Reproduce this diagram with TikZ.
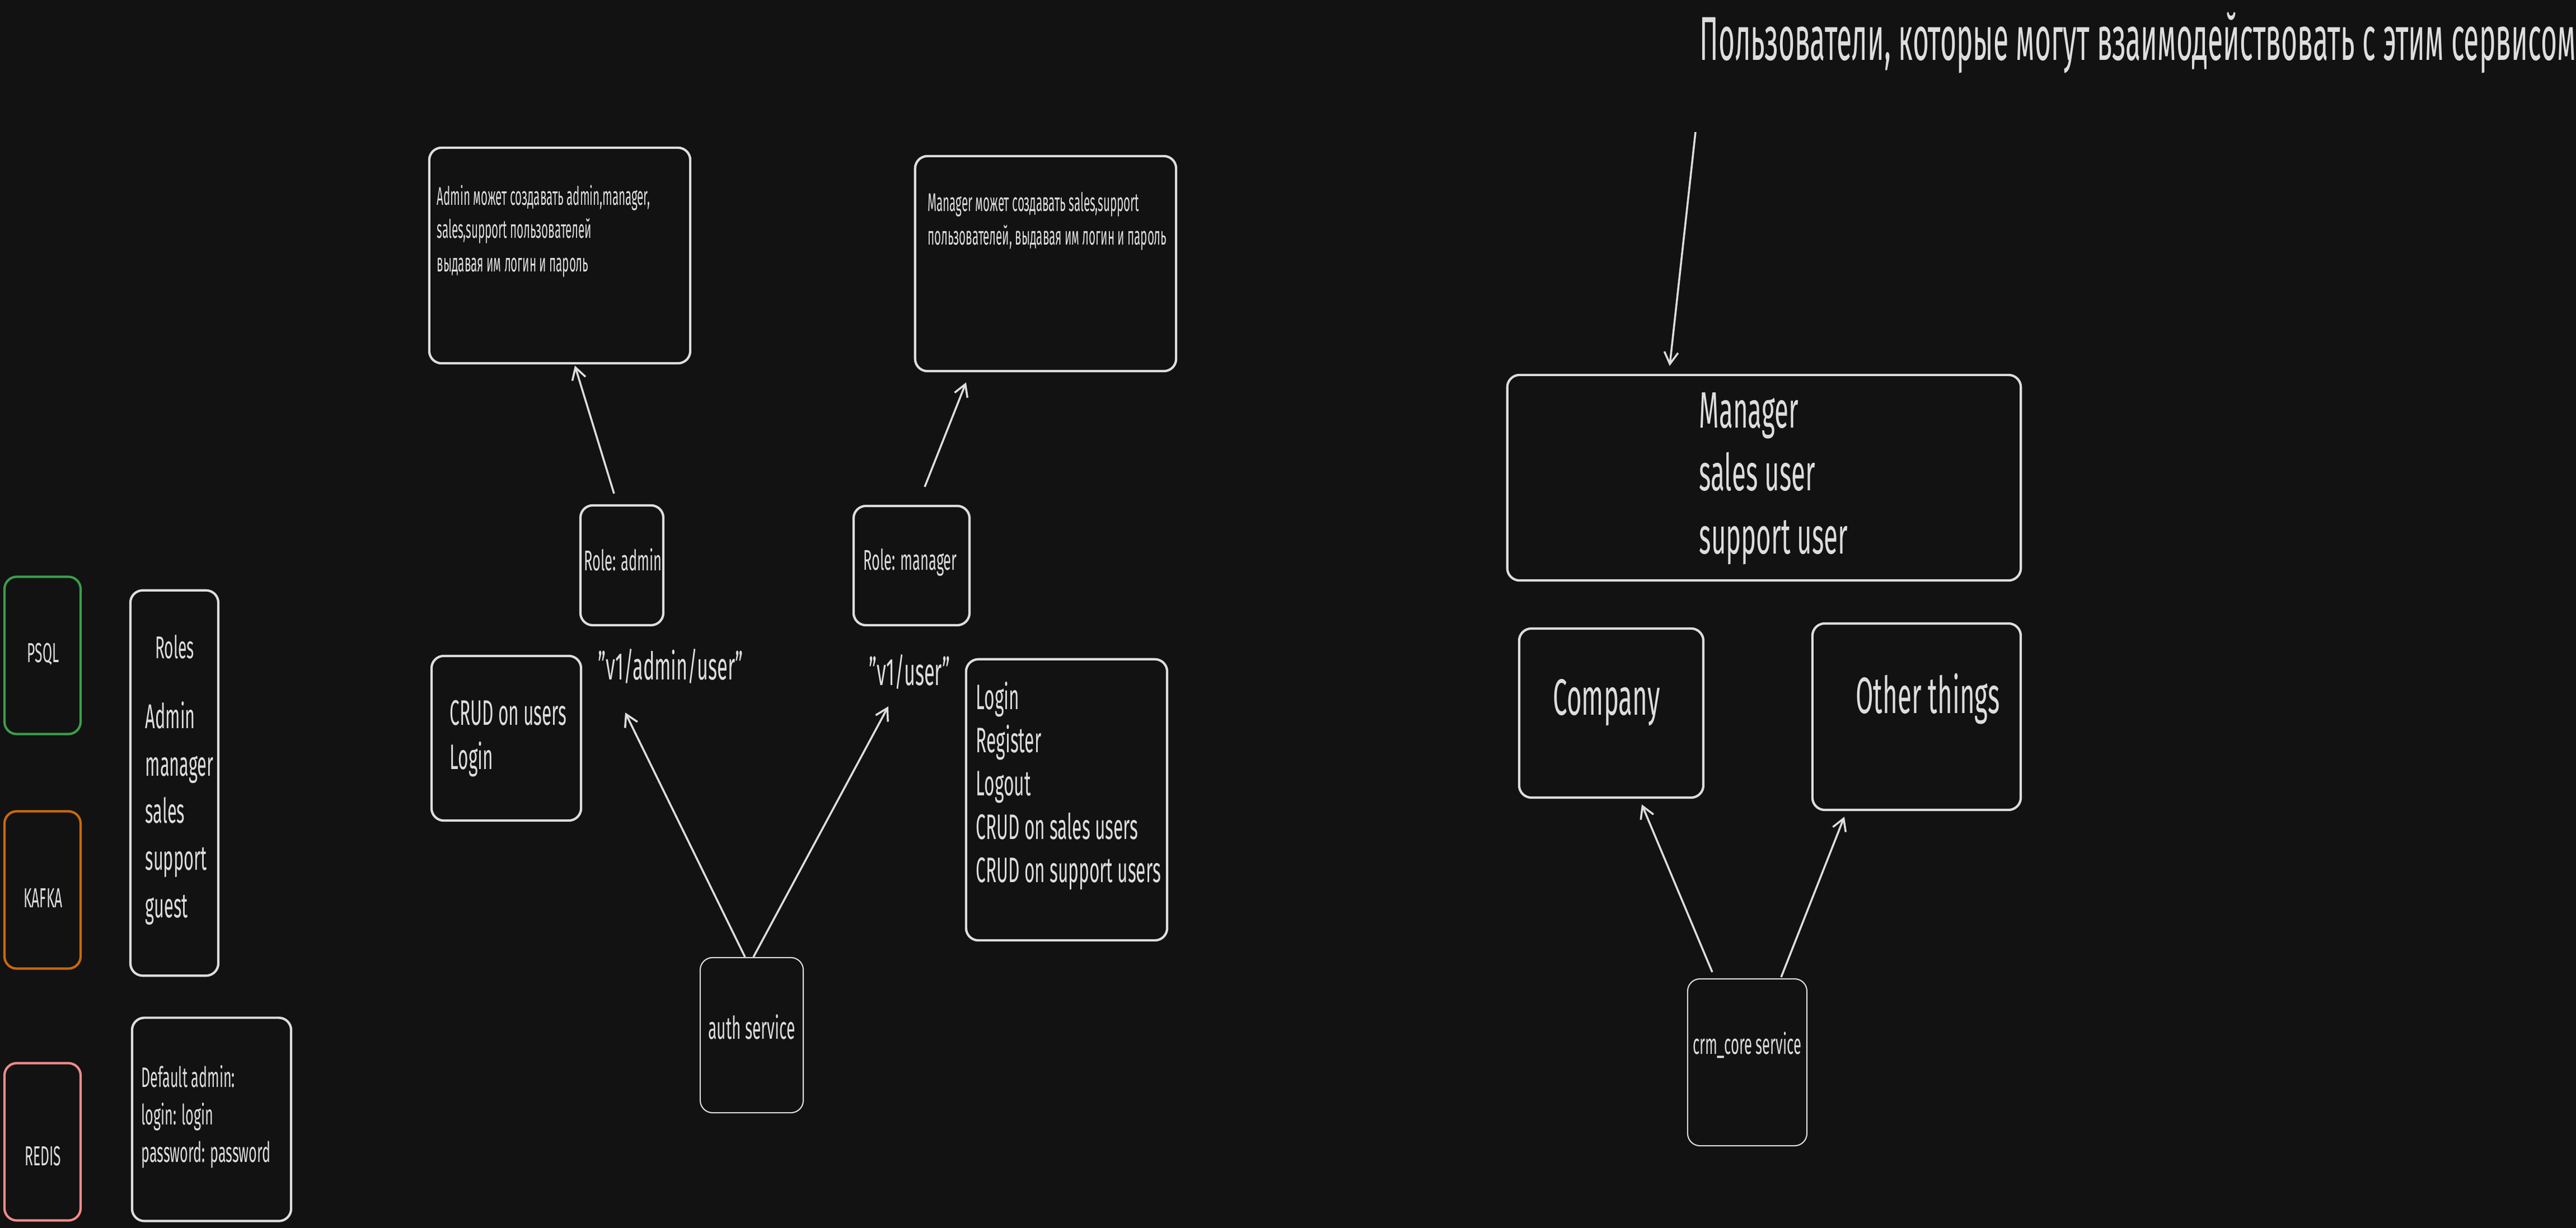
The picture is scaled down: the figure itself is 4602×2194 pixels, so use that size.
\documentclass[tikz,border=0pt]{standalone}
\usepackage{fontspec}
\setmainfont{Fira Sans}[FakeStretch=0.5]
\newfontfamily\ruhand{Fira Sans}[FakeStretch=0.45]
\usepackage{xcolor}
\usepackage{tikz}
\usetikzlibrary{arrows.meta}
\usetikzlibrary{calc}
\definecolor{bgcolor}{HTML}{121212}
\definecolor{linecolor}{HTML}{DDDDDD}
\definecolor{psqlcolor}{HTML}{3A9E4A}
\definecolor{kafkacolor}{HTML}{C8690C}
\definecolor{rediscolor}{HTML}{F08A8A}
\newcommand{\handsize}[2]{\fontsize{#1pt}{#2pt}\selectfont}

\begin{document}
\begin{tikzpicture}[x=0.01cm,y=-0.01cm,
    box/.style={draw=linecolor,line width=1.2pt,rounded corners=0.22cm,inner sep=0pt},
    thinbox/.style={box,line width=0.6pt},
    txt/.style={text=linecolor,inner sep=0pt,align=left},
    arr/.style={draw=linecolor,line width=1pt,-{Straight Barb[length=6pt,width=7pt]}}]
\fill[bgcolor] (0,0) rectangle (4602,2194);

%% storages on the left
\foreach \name/\ypos/\col/\ty in {PSQL/1171/psqlcolor/1169, KAFKA/1590/kafkacolor/1605, REDIS/2040/rediscolor/2066}
{
    \node[box,draw=\col,minimum width=1.36cm,minimum height=2.81cm] (\name) at (76,\ypos) {};
    \node[txt,font=\handsize{14}{17}] (\name-label) at (77,\ty) {\name};
}

\node[box,minimum width=1.57cm,minimum height=6.88cm] (roles) at (311.5,1399) {};
\node[txt,font=\handsize{16}{19}] (rolestitle) at (312,1156) {Roles};
\node[txt,font=\handsize{17.5}{24},anchor=west] (roleslist) at (259,1453) {Admin\\manager\\sales\\support\\guest};

\node[box,minimum width=2.84cm,minimum height=3.63cm] (defadmin) at (378,2000) {};
\node[txt,font=\handsize{14.3}{19},anchor=west] (defadmintext) at (252,1995) {Default admin:\\login: login\\password: password};

%% auth service
\node[box,minimum width=4.66cm,minimum height=3.85cm] (admintxt) at (1000,456.5) {};
\node[txt,font=\ruhand\handsize{13}{17},anchor=west] (admintxtlabel) at (780,413) {Admin может создавать admin,manager,\\sales,support пользователей\\выдавая им логин и пароль};
\node[box,minimum width=4.66cm,minimum height=3.84cm] (managertxt) at (1868,471) {};
\node[txt,font=\ruhand\handsize{13}{17},anchor=west] (managertxtlabel) at (1657,395) {Manager может создавать sales,support\\пользователей, выдавая им логин и пароль};

\node[box,minimum width=1.48cm,minimum height=2.14cm] (roleadmin) at (1111,1010) {};
\node[txt,font=\handsize{14.5}{17}] (roleadminlabel) at (1113,1000) {Role: admin};
\node[box,minimum width=2.07cm,minimum height=2.13cm] (rolemanager) at (1628.5,1010.5) {};
\node[txt,font=\handsize{14.5}{17}] (rolemanagerlabel) at (1626,1005) {Role: manager};

\node[txt,font=\handsize{19.5}{24}] (v1admin) at (1198,1190) {"v1/admin/user"};
\node[txt,font=\handsize{19.5}{24}] (v1user) at (1625,1200) {"v1/user"};

\node[box,minimum width=2.67cm,minimum height=2.94cm] (adminapi) at (904.5,1319) {};
\node[txt,font=\handsize{18}{22.5},anchor=west] (adminapilabel) at (803,1320) {CRUD on users\\Login};
\node[box,minimum width=3.59cm,minimum height=5.02cm] (userapi) at (1905.5,1429) {};
\node[txt,font=\handsize{18}{22},anchor=west] (userapilabel) at (1743,1404) {Login\\Register\\Logout\\CRUD on sales users\\CRUD on support users};

\node[thinbox,minimum width=1.84cm,minimum height=2.77cm] (auth) at (1343,1849.5) {};
\node[txt,font=\handsize{16}{19}] (authlabel) at (1343,1835) {auth service};

\draw[arr] ([xshift=-0.14cm,yshift=0.19cm]roleadmin.north) -- ([xshift=0.27cm,yshift=-0.02cm]admintxt.south);
\draw[arr] ([xshift=0.235cm,yshift=0.32cm]rolemanager.north) -- ([xshift=-1.42cm,yshift=-0.18cm]managertxt.south);
\draw[arr] ([xshift=-0.12cm]auth.north) -- ([xshift=-0.81cm,yshift=-0.83cm]v1admin.center);
\draw[arr] ([xshift=0.03cm]auth.north) -- ([xshift=-0.38cm,yshift=-0.62cm]v1user.center);

%% crm_core service
\node[txt,font=\ruhand\handsize{31.5}{36},anchor=base west] (title) at (3036,108) {Пользователи, которые могут взаимодействовать с этим сервисом};
\node[box,minimum width=9.17cm,minimum height=3.67cm] (users) at (3151.5,853.5) {};
\node[txt,font=\handsize{26}{32},anchor=west] (userslabel) at (3035,855) {Manager\\sales user\\support user};

\node[box,minimum width=3.29cm,minimum height=3.02cm] (company) at (2878.5,1274) {};
\node[txt,font=\handsize{26}{32}] (companylabel) at (2870,1255) {Company};
\node[box,minimum width=3.72cm,minimum height=3.33cm] (other) at (3424,1280.5) {};
\node[txt,font=\handsize{26}{32}] (otherlabel) at (3444,1249) {Other things};

\node[thinbox,minimum width=2.13cm,minimum height=2.98cm] (crm) at (3121.5,1898) {};
\node[txt,font=\handsize{14.5}{17}] (crmlabel) at (3121,1867) {crm\_core service};

\draw[arr] ([xshift=-0.07cm,yshift=-1.28cm]title.base west) -- ([xshift=-1.685cm,yshift=0.14cm]users.north);
\draw[arr] ([xshift=-0.625cm,yshift=0.11cm]crm.north) -- ([xshift=0.545cm,yshift=-0.10cm]company.south);
\draw[arr] ([xshift=0.605cm,yshift=0.02cm]crm.north) -- ([xshift=-1.29cm,yshift=-0.10cm]other.south);
\end{tikzpicture}
\end{document}
